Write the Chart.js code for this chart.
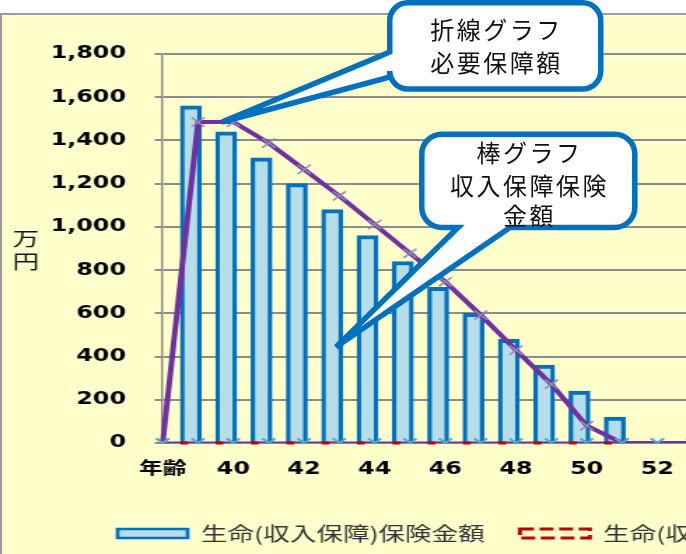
<!DOCTYPE html>
<html><head><meta charset="utf-8">
<script src="https://cdn.jsdelivr.net/npm/chart.js@4"></script>
<style>
html,body{margin:0;padding:0;width:686px;height:554px;overflow:hidden;background:#fff;}
#frame{position:absolute;left:0;top:13px;width:760px;height:600px;background:#FFFFCC;border-left:2px solid #9C9C9C;border-top:2px solid #9C9C9C;}
#wrap{position:absolute;left:0;top:0;width:1000px;height:554px;transform:scaleX(1.4);transform-origin:0 0;}
#ov{position:absolute;left:0;top:0;}
#ov text{font-family:'Noto Sans CJK JP';font-size:24px;letter-spacing:2.5px;fill:#111;}
</style></head>
<body>
<div id="frame"></div>
<div id="wrap"><canvas id="c" width="1000" height="554"></canvas></div>
<svg id="ov" width="686" height="554">
  <path d="M407.75,2.75 H582.75 A18,18 0 0 1 600.75,20.75 V71 A18,18 0 0 1 582.75,89 H407.75 A18,18 0 0 1 389.75,71 V77 L222,122 L389.75,52 V20.75 A18,18 0 0 1 407.75,2.75 Z" fill="#fff" stroke="#0070C0" stroke-width="5.5" stroke-linejoin="miter" stroke-miterlimit="6"/>
  <text x="496.5" y="28.5" text-anchor="middle" dominant-baseline="central">折線グラフ</text>
  <text x="496.5" y="61.5" text-anchor="middle" dominant-baseline="central">必要保障額</text>
  <path d="M441.8,134.2 H614.8 A20,20 0 0 1 634.8,154.2 V207.5 A20,20 0 0 1 614.8,227.5 H510 L336,347 L458,227.5 H441.8 A20,20 0 0 1 421.8,207.5 V154.2 A20,20 0 0 1 441.8,134.2 Z" fill="#fff" stroke="#0070C0" stroke-width="5.5" stroke-linejoin="miter" stroke-miterlimit="6"/>
  <text x="529.5" y="151" text-anchor="middle" dominant-baseline="central">棒グラフ</text>
  <text x="529.5" y="184" text-anchor="middle" dominant-baseline="central">収入保障保険</text>
  <text x="529.5" y="214" text-anchor="middle" dominant-baseline="central">金額</text>
</svg>
<script>
// ---- data ----
const categories = ['年齢','39','40','41','42','43','44','45','46','47','48','49','50','51','52','53'];
const insuranceAmounts = [null,1560,1440,1320,1200,1080,960,840,720,600,480,360,240,120,0,0];
const insuranceAmounts2 = [null,0,0,0,0,0,0,0,0,0,0,0,0,0,null,null];
const requiredAmounts = [0,1485,1485,1388,1266,1143,1011,878,746,592,430,272,80,0,0,0];
const baseLine = [0,0,0,0,0,0,0,0,0,0,0,0,0,0,0,0];
const yTickValues = [0,200,400,600,800,1000,1200,1400,1600,1800];

// ---- layout (canvas is stretched horizontally by K) ----
const K = 1.4;
const W = 1000;
const plotLeft = 162.7 / K;
const step = 35.33 / K;
const plotRight = plotLeft + (categories.length - 1) * step;
const legendShift = 59;
const barShift = 7.2 / 35.33;
const tickFont = {family: "'DejaVu Sans', 'Noto Sans CJK JP'", size: 17, weight: 'bold'};

const toPoints = arr => arr.map((v, i) => v === null ? null : {x: i, y: v}).filter(p => p !== null);

const extras = {
  id: 'extras',
  afterLayout(chart) {
    const lg = chart.legend;
    if (lg) { lg.left += legendShift; lg.right += legendShift; }
  },
  afterDatasetsDraw(chart) {
    const ctx = chart.ctx;
    const meta = chart.getDatasetMeta(1);
    ctx.save();
    ctx.strokeStyle = '#C00000';
    ctx.lineWidth = 3;
    meta.data.forEach(el => {
      const x0 = el.x - el.width / 2;
      ctx.beginPath();
      ctx.moveTo(x0, el.base);
      ctx.lineTo(x0 + 5.5, el.base);
      ctx.stroke();
    });
    ctx.restore();
  },
  afterDraw(chart) {
    const ctx = chart.ctx;
    ctx.save();
    ctx.fillStyle = '#111';
    ctx.font = "19px 'Noto Sans CJK JP'";
    ctx.textAlign = 'center';
    ctx.textBaseline = 'middle';
    ctx.fillText('万', 18.6, 238.5);
    ctx.fillText('円', 18.6, 262);
    ctx.restore();
  }
};

const barBorder = {top: 4, left: 3.3, right: 3.3, bottom: 0};

new Chart(document.getElementById('c'), {
  type: 'bar',
  data: {
    labels: categories,
    datasets: [
      {
        label: '生命(収入保障)保険金額',
        type: 'bar', xAxisID: 'xb', yAxisID: 'y',
        data: toPoints(insuranceAmounts),
        backgroundColor: '#B7DEE8', borderColor: '#0070C0',
        borderWidth: barBorder, borderSkipped: 'start',
        barThickness: 15, grouped: false, order: 3
      },
      {
        label: '生命(収入保障)保険金額(2)',
        type: 'bar', xAxisID: 'xb', yAxisID: 'y',
        data: toPoints(insuranceAmounts2),
        backgroundColor: 'rgba(0,0,0,0)', borderColor: '#C00000',
        borderWidth: barBorder, borderSkipped: 'start',
        barThickness: 15, grouped: false, order: 2
      },
      {
        label: '必要保障額',
        type: 'line', xAxisID: 'x', yAxisID: 'y',
        data: requiredAmounts,
        borderColor: '#7030A0', borderWidth: 4, tension: 0,
        pointStyle: 'crossRot', pointRadius: 6.5,
        pointBorderColor: '#9488B6', pointBorderWidth: 1.5,
        pointBackgroundColor: 'rgba(0,0,0,0)', order: 1
      },
      {
        label: '基準',
        type: 'line', xAxisID: 'x', yAxisID: 'y',
        data: baseLine,
        borderColor: '#7030A0', borderWidth: 3, tension: 0,
        pointStyle: 'crossRot', pointRadius: 6.5,
        pointBorderColor: '#4BACC6', pointBorderWidth: 2,
        pointBackgroundColor: 'rgba(0,0,0,0)', order: 0
      }
    ]
  },
  options: {
    responsive: false,
    animation: false,
    devicePixelRatio: 1,
    layout: {padding: {left: 0, top: 54, right: 0, bottom: 1}},
    plugins: {
      tooltip: {enabled: false},
      legend: {
        position: 'bottom', align: 'start',
        labels: {
          boxWidth: 50, boxHeight: 9, padding: 25, color: '#333',
          font: {family: "'Noto Sans CJK JP'", size: 19},
          sort: (a, b) => a.datasetIndex - b.datasetIndex,
          generateLabels(chart) {
            const items = Chart.defaults.plugins.legend.labels.generateLabels(chart);
            items.forEach(it => {
              if (it.datasetIndex === 1) { it.lineDash = [10, 4]; it.lineWidth = 3; it.fillStyle = 'rgba(0,0,0,0)'; }
            });
            return items.filter(it => it.datasetIndex !== 3);
          }
        }
      }
    },
    scales: {
      x: {
        type: 'category', position: 'bottom', offset: false,
        grid: {display: false, drawTicks: false},
        border: {display: true, color: '#8C8C8C', width: 2},
        ticks: {
          autoSkip: false, maxRotation: 0, minRotation: 0, padding: 16,
          color: '#000', font: tickFont,
          callback: (v, i) => (i % 2 === 0 ? categories[i] : '')
        },
        afterFit(s) { s.height = 56; }
      },
      xb: {
        type: 'linear', display: false, offset: false,
        min: barShift, max: categories.length - 1 + barShift
      },
      y: {
        type: 'linear', position: 'left', min: 0, max: 1800,
        afterBuildTicks(s) { s.ticks = yTickValues.map(v => ({value: v})); },
        ticks: {
          padding: 20.5, color: '#000', font: tickFont,
          callback: v => Number(v).toLocaleString('en-US')
        },
        grid: {color: '#8C8C8C', lineWidth: 2, tickLength: 5.7, drawTicks: true},
        border: {display: true, color: '#8C8C8C', width: 1.5},
        afterFit(s) { s.width = plotLeft; }
      },
      yR: {
        type: 'linear', position: 'right', display: true,
        ticks: {display: false},
        grid: {display: false, drawTicks: false},
        border: {display: false},
        afterFit(s) { s.width = W - plotRight; }
      }
    }
  },
  plugins: [extras]
});
</script>
</body></html>
